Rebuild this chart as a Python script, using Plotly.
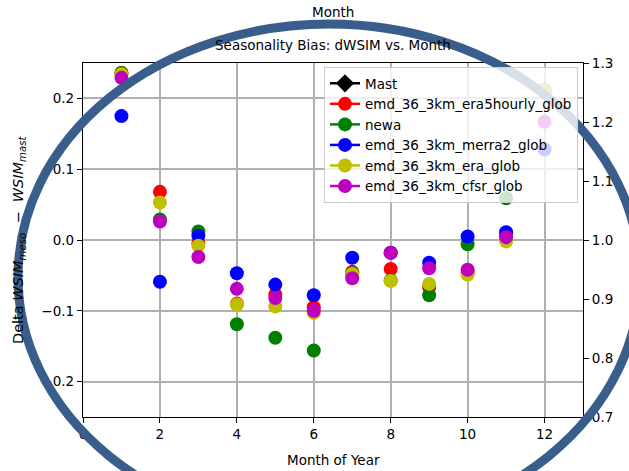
import plotly.graph_objects as go

months = list(range(1, 13))
era5hourly = [0.236, 0.068, -0.004, -0.090, -0.077, -0.095, -0.045, -0.041, -0.067, -0.046, 0.006, 0.209]
newa = [0.236, 0.029, 0.012, -0.119, -0.138, -0.156, -0.047, -0.057, -0.078, -0.006, 0.059, 0.212]
merra2 = [0.175, -0.059, 0.006, -0.047, -0.063, -0.078, -0.025, -0.018, -0.032, 0.005, 0.011, 0.128]
era = [0.234, 0.053, -0.008, -0.091, -0.094, -0.103, -0.048, -0.058, -0.062, -0.049, -0.002, 0.211]
cfsr = [0.229, 0.026, -0.024, -0.069, -0.082, -0.100, -0.054, -0.018, -0.040, -0.042, 0.004, 0.167]

series = [
    ("emd_36_3km_era5hourly_glob", era5hourly, "#ff0000"),
    ("newa", newa, "#008000"),
    ("emd_36_3km_merra2_glob", merra2, "#0000ff"),
    ("emd_36_3km_era_glob", era, "#bfbf00"),
    ("emd_36_3km_cfsr_glob", cfsr, "#bf00bf"),
]

FONT = "DejaVu Sans"
FS = 13.5
fig = go.Figure()

# legend-only entries
fig.add_trace(go.Scatter(x=[None], y=[None], mode="lines+markers", name="Mast",
                         line=dict(color="black", width=2.5),
                         marker=dict(symbol="diamond", size=14, color="black"),
                         yaxis="y2", showlegend=True))
for name, vals, col in series:
    fig.add_trace(go.Scatter(x=[None], y=[None], mode="lines+markers", name=name,
                             line=dict(color=col, width=2.5),
                             marker=dict(size=14, color=col), showlegend=True))
for name, vals, col in series:
    fig.add_trace(go.Scatter(x=months, y=vals, mode="markers", name=name,
                             marker=dict(size=14, color=col, line=dict(width=0)),
                             showlegend=False))

W, H = 629, 471
L, R, T, B = 83, 583, 63, 417
pw, ph = R - L, B - T

def px(x):
    return (x - L) / pw

def py(y):
    return (B - y) / ph

axis_common = dict(showline=True, linecolor="black", linewidth=1.3, ticks="outside",
                   ticklen=5, tickwidth=1.2, tickcolor="black", zeroline=False,
                   tickfont=dict(size=FS))

fig.update_layout(
    width=W, height=H,
    margin=dict(l=L, r=W - R, t=T, b=H - B, pad=0),
    paper_bgcolor="white", plot_bgcolor="white",
    font=dict(family=FONT, size=FS, color="black"),
    xaxis=dict(range=[0, 13], tickvals=[0, 2, 4, 6, 8, 10, 12], showgrid=True,
               gridcolor="#b0b0b0", gridwidth=1.5, mirror=True, **axis_common),
    yaxis=dict(range=[-0.25, 0.25], tickvals=[-0.2, -0.1, 0.0, 0.1, 0.2], tickformat=".1f",
               showgrid=True, gridcolor="#b0b0b0", gridwidth=1.5, **axis_common),
    yaxis2=dict(range=[0.7, 1.3], tickvals=[0.7, 0.8, 0.9, 1.0, 1.1, 1.2, 1.3], tickformat=".1f",
                overlaying="y", side="right", showgrid=False, **axis_common),
    legend=dict(x=px(324), y=py(67), xanchor="left", yanchor="top",
                bgcolor="rgba(255,255,255,0.8)", bordercolor="#cccccc", borderwidth=1,
                font=dict(size=FS, family=FONT), tracegroupgap=0),
    showlegend=True,
)

fig.add_annotation(text="Month", x=0.5, y=py(12), xref="paper", yref="paper",
                   showarrow=False, xanchor="center", yanchor="middle", font=dict(size=FS))
fig.add_annotation(text="Seasonality Bias: dWSIM vs. Month", x=0.5, y=py(45), xref="paper",
                   yref="paper", showarrow=False, xanchor="center", yanchor="middle",
                   font=dict(size=FS))
fig.add_annotation(text="Month of Year", x=0.5, y=py(460), xref="paper", yref="paper",
                   showarrow=False, xanchor="center", yanchor="middle", font=dict(size=FS))
fig.add_annotation(text="Delta <i>WSIM</i><sub><i>meso</i></sub>&nbsp;&nbsp;−&nbsp;&nbsp;<i>WSIM</i><sub><i>mast</i></sub>",
                   x=px(19), y=py(240), xref="paper", yref="paper", textangle=-90,
                   showarrow=False, xanchor="center", yanchor="middle", font=dict(size=14.5))

# big ellipse overlay
cx, cy, rx, ry = 329, 277, 311, 253
fig.add_shape(type="circle", xref="paper", yref="paper",
              x0=px(cx - rx), x1=px(cx + rx), y0=py(cy + ry), y1=py(cy - ry),
              line=dict(color="#3a5e8b", width=9), layer="above")

fig.write_html("out.html")
